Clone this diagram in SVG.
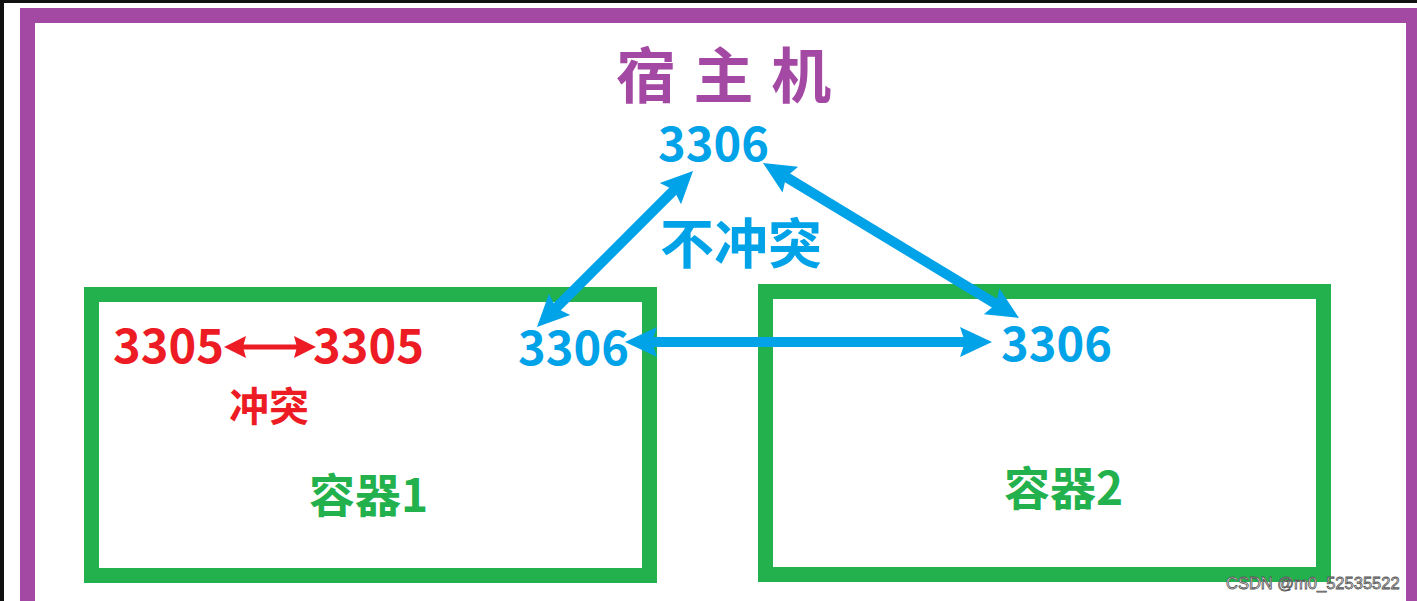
<svg xmlns="http://www.w3.org/2000/svg" width="1417" height="601" viewBox="0 0 1417 601">
<style>
.cjk{font-family:"Noto Sans CJK SC","Noto Sans",sans-serif;font-weight:bold}
.blue{fill:#00A2E8}
.red{fill:#ED1C24}
.green{fill:#22B14C}
.purple{fill:#A349A4}
.box{fill:none;stroke:#22B14C;stroke-width:15}
.barrow{stroke:#00A2E8;stroke-width:10;fill:none}
.rarrow{stroke:#ED1C24;stroke-width:5;fill:none}
</style>
<defs>
<marker id="bh" markerUnits="userSpaceOnUse" markerWidth="80" markerHeight="80" viewBox="-40 -40 80 80" refX="0" refY="0" orient="auto-start-reverse" overflow="visible">
<path d="M20,0 L-12,-15 L-7,0 L-12,15 Z" fill="#00A2E8"/>
</marker>
<marker id="rh" markerUnits="userSpaceOnUse" markerWidth="60" markerHeight="60" viewBox="-30 -30 60 60" refX="0" refY="0" orient="auto-start-reverse" overflow="visible">
<path d="M12,0 L-10,-11 L-7,0 L-10,11 Z" fill="#ED1C24"/>
</marker>
</defs>
<rect width="1417" height="601" fill="#fff"/>
<rect x="0" y="0" width="1417" height="3" fill="#111"/>
<rect x="0" y="0" width="4" height="601" fill="#111"/>
<g id="host">
<rect x="27.5" y="15.5" width="1386" height="700" fill="none" stroke="#A349A4" stroke-width="15"/>
<text class="cjk purple" x="616" y="98" font-size="60" letter-spacing="2" xml:space="preserve">宿 主 机</text>
<text class="cjk blue" x="658" y="161" font-size="47">3306</text>
</g>
<g id="container1">
<rect class="box" x="91.5" y="294.5" width="558" height="281"/>
<text class="cjk red" x="113" y="363" font-size="47">3305</text>
<text class="cjk red" x="313" y="363" font-size="47">3305</text>
<text class="cjk red" x="229" y="421" font-size="40">冲突</text>
<text class="cjk blue" x="518" y="365" font-size="47">3306</text>
<text class="cjk green" x="309" y="512" font-size="46">容器1</text>
</g>
<g id="container2">
<rect class="box" x="765.5" y="291.5" width="558" height="283"/>
<text class="cjk blue" x="1001" y="361" font-size="47">3306</text>
<text class="cjk green" x="1004" y="505" font-size="46">容器2</text>
</g>
<g id="connectors">
<line class="rarrow" x1="236" y1="347" x2="304" y2="347" marker-start="url(#rh)" marker-end="url(#rh)"/>
<line class="barrow" x1="645" y1="342" x2="972" y2="342" marker-start="url(#bh)" marker-end="url(#bh)"/>
<line class="barrow" x1="678.9" y1="185.1" x2="551.1" y2="312.9" marker-start="url(#bh)" marker-end="url(#bh)"/>
<line class="barrow" x1="780.1" y1="173.4" x2="1001.9" y2="307.6" marker-start="url(#bh)" marker-end="url(#bh)"/>
</g>
<text class="cjk blue" x="660" y="264" font-size="54">不冲突</text>
<text x="1226" y="589" font-family="'Liberation Sans',Arial,sans-serif" font-size="16.5" fill="#f6f6f6" stroke="#555" stroke-width="0.8">CSDN @m0_52535522</text>
</svg>
